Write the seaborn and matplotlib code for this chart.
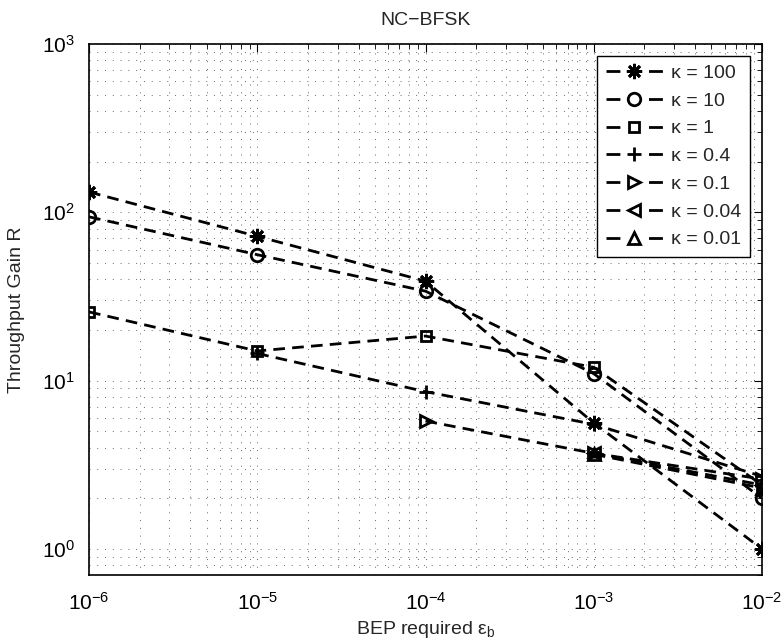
import matplotlib
matplotlib.use("Agg")
import matplotlib.pyplot as plt
import matplotlib.ticker as mticker
import numpy as np
import pandas as pd
import seaborn as sns

# Required bit error probability (x) and throughput gain R for each kappa
bep = [1e-6, 1e-5, 1e-4, 1e-3, 1e-2]

gain_k100 = [132, 72, 39, 5.6, 1.0]
gain_k10 = [94, 56, 34, 11, 2.0]
gain_k1 = [25.6, 15, 18.4, 12, 2.4]
gain_k04 = [None, 14.5, 8.6, 5.5, 2.7]
gain_k01 = [None, None, 5.75, 3.7, 2.6]
gain_k004 = [None, None, None, 3.7, 2.4]
gain_k001 = [None, None, None, 3.65, 2.3]

kappa_labels = ["κ = 100", "κ = 10", "κ = 1", "κ = 0.4",
                "κ = 0.1", "κ = 0.04", "κ = 0.01"]
series = [gain_k100, gain_k10, gain_k1, gain_k04, gain_k01, gain_k004, gain_k001]
markers = [(8, 2, 0), "o", "s", "+", ">", "<", "^"]
marker_sizes = [11, 9, 7, 10, 9, 9, 9]

sns.set_theme(style="white")
plt.rcParams["font.family"] = ["Liberation Sans", "DejaVu Sans"]
plt.rcParams["mathtext.fontset"] = "custom"
plt.rcParams["mathtext.rm"] = "Liberation Sans"
plt.rcParams["mathtext.it"] = "Liberation Sans"
plt.rcParams["mathtext.default"] = "regular"

fig = plt.figure(figsize=(7.83, 6.43), dpi=100)
ax = fig.add_axes([89 / 783, 1 - 575 / 643, (762 - 89) / 783, (575 - 44) / 643])

for lab, vals, mk, ms in zip(kappa_labels, series, markers, marker_sizes):
    df = pd.DataFrame({"bep": bep, "gain": vals}).dropna()
    sns.lineplot(data=df, x="bep", y="gain", ax=ax, color="black",
                 marker=mk, markersize=ms, markeredgewidth=2,
                 markerfacecolor="none", markeredgecolor="black",
                 linewidth=2, label=lab, sort=False)

for line in ax.get_lines():
    line.set_dashes((4.2, 2.6))

ax.set_xscale("log")
ax.set_yscale("log")
ax.set_xlim(1e-6, 1e-2)
ax.set_ylim(0.7, 1e3)

ax.xaxis.set_major_locator(mticker.LogLocator(base=10, numticks=10))
ax.yaxis.set_major_locator(mticker.LogLocator(base=10, numticks=10))
ax.xaxis.set_minor_locator(mticker.LogLocator(base=10, subs=np.arange(2, 10), numticks=20))
ax.yaxis.set_minor_locator(mticker.LogLocator(base=10, subs=np.arange(2, 10), numticks=20))

ax.tick_params(which="both", direction="in", top=True, right=True, colors="black",
               labelsize=15)
ax.tick_params(axis="x", which="major", pad=12)
ax.tick_params(axis="y", which="major", pad=10)
ax.tick_params(which="major", length=6, width=0.8)
ax.tick_params(which="minor", length=3.5, width=0.6)

ax.grid(True, which="both", color="0.4", linestyle=(0, (1, 7)), linewidth=0.7)
for sp in ax.spines.values():
    sp.set_color("black")
    sp.set_linewidth(1.2)

ax.set_title("NC−BFSK", fontsize=14, pad=14)
ax.set_xlabel("BEP required ε$_{b}$", fontsize=14, labelpad=4)
ax.set_ylabel("Throughput Gain R", fontsize=14, labelpad=12)

leg = ax.legend(loc="upper right", fontsize=14, frameon=True, fancybox=False,
                edgecolor="black", framealpha=1, handlelength=2.9,
                labelspacing=0.52, borderpad=0.45, handletextpad=0.45,
                borderaxespad=0.6)
leg.get_frame().set_linewidth(1.0)
# legend handles read as "dash  marker  dash"
for h in leg.get_lines():
    h.set_dashes([5.0, 10.3, 5.0, 60.0])

fig.savefig("out.png", dpi=100)
